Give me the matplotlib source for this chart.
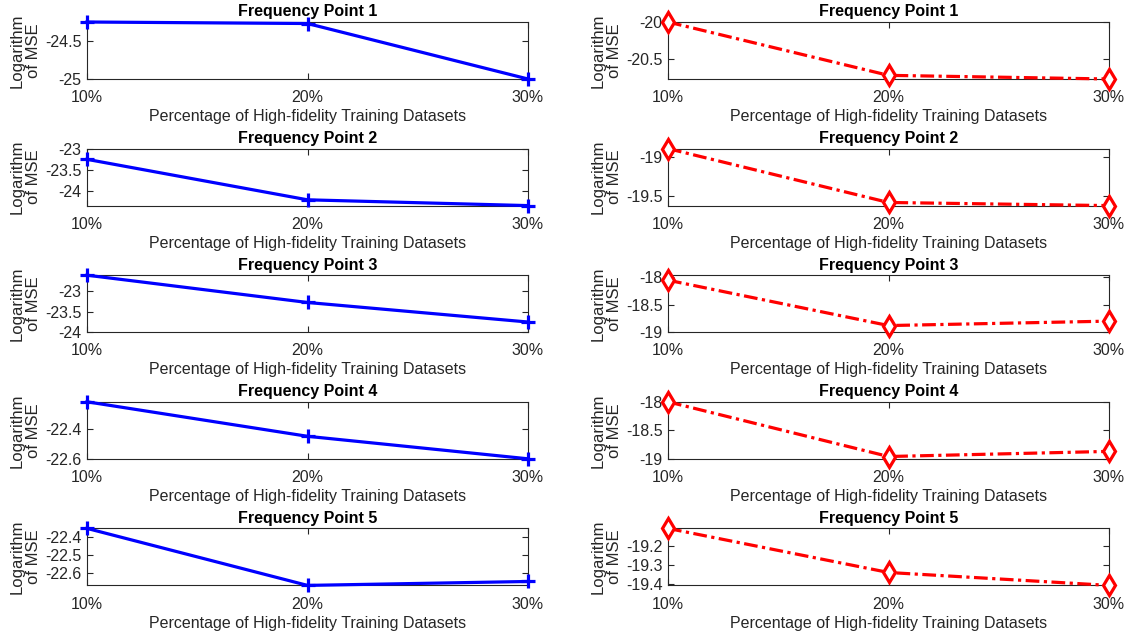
import matplotlib
matplotlib.use("Agg")
import matplotlib.pyplot as plt
from matplotlib.ticker import FuncFormatter

plt.rcParams["font.family"] = ["Liberation Sans", "DejaVu Sans"]

# x positions and labels (share of high-fidelity training data)
x_pos = [1, 2, 3]
x_labels = ["10%", "20%", "30%"]
titles = ["Frequency Point 1", "Frequency Point 2", "Frequency Point 3",
          "Frequency Point 4", "Frequency Point 5"]

# log MSE, left column (blue solid)
blue_fp1 = [-24.25, -24.27, -25.00]
blue_fp2 = [-23.24, -24.22, -24.36]
blue_fp3 = [-22.60, -23.27, -23.75]
blue_fp4 = [-22.22, -22.45, -22.60]
blue_fp5 = [-22.35, -22.67, -22.648]

# log MSE, right column (red dash-dot)
red_fp1 = [-20.00, -20.73, -20.78]
red_fp2 = [-18.89, -19.58, -19.62]
red_fp3 = [-18.06, -18.88, -18.80]
red_fp4 = [-18.00, -18.96, -18.87]
red_fp5 = [-19.11, -19.342, -19.41]

blue_ylim = [(-25.0, -24.25), (-24.36, -22.98), (-24.0, -22.6),
             (-22.6, -22.22), (-22.67, -22.35)]
red_ylim = [(-20.78, -20.0), (-19.62, -18.89), (-19.0, -17.97),
            (-19.0, -18.0), (-19.41, -19.11)]
blue_yticks = [[-25, -24.5], [-24, -23.5, -23], [-24, -23.5, -23],
               [-22.6, -22.4], [-22.6, -22.5, -22.4]]
red_yticks = [[-20.5, -20], [-19.5, -19], [-19, -18.5, -18],
              [-19, -18.5, -18], [-19.4, -19.3, -19.2]]

blue_series = [blue_fp1, blue_fp2, blue_fp3, blue_fp4, blue_fp5]
red_series = [red_fp1, red_fp2, red_fp3, red_fp4, red_fp5]

W, H = 1128, 636
fig = plt.figure(figsize=(W / 100, H / 100), dpi=100)

txt = "#262626"
ax_h = 57
row_top = [22 + 126.6 * i for i in range(5)]
col_left = [87, 668]
ax_w = 441


def style_axes(ax, ylim, yticks, title):
    ax.set_xlim(1, 3)
    ax.set_ylim(*ylim)
    ax.set_xticks(x_pos)
    ax.set_xticklabels(x_labels)
    ax.set_yticks(yticks)
    ax.yaxis.set_major_formatter(FuncFormatter(lambda v, p: "%g" % v))
    ax.tick_params(direction="in", length=4, width=0.8, colors=txt,
                   labelsize=11.5, top=True, right=True)
    ax.tick_params(axis="x", pad=8)
    ax.tick_params(axis="y", pad=4)
    for s in ax.spines.values():
        s.set_color(txt)
        s.set_linewidth(0.8)
    ax.set_title(title, fontsize=11.5, fontweight="bold", color="black", pad=4)
    ax.set_xlabel("Percentage of High-fidelity Training Datasets",
                  fontsize=11.5, color=txt, labelpad=3)
    ax.set_ylabel("Logarithm\nof MSE", fontsize=12, color=txt,
                  linespacing=1.1, labelpad=3)


for i in range(5):
    bottom = 1 - (row_top[i] + ax_h) / H
    axl = fig.add_axes([col_left[0] / W, bottom, ax_w / W, ax_h / H])
    axl.plot(x_pos, blue_series[i], color="blue", linestyle="-",
             linewidth=2.3, marker="+", markersize=10, markeredgewidth=2.3,
             clip_on=False, zorder=3)
    style_axes(axl, blue_ylim[i], blue_yticks[i], titles[i])

    axr = fig.add_axes([col_left[1] / W, bottom, ax_w / W, ax_h / H])
    axr.plot(x_pos, red_series[i], color="red",
             linestyle=(0, (4.3, 1.4, 1.0, 1.4)), linewidth=2.3,
             marker="d", markersize=10, markeredgewidth=2.3,
             markerfacecolor="white", clip_on=False, zorder=3)
    style_axes(axr, red_ylim[i], red_yticks[i], titles[i])

fig.savefig("out.png", dpi=100, facecolor="white")
